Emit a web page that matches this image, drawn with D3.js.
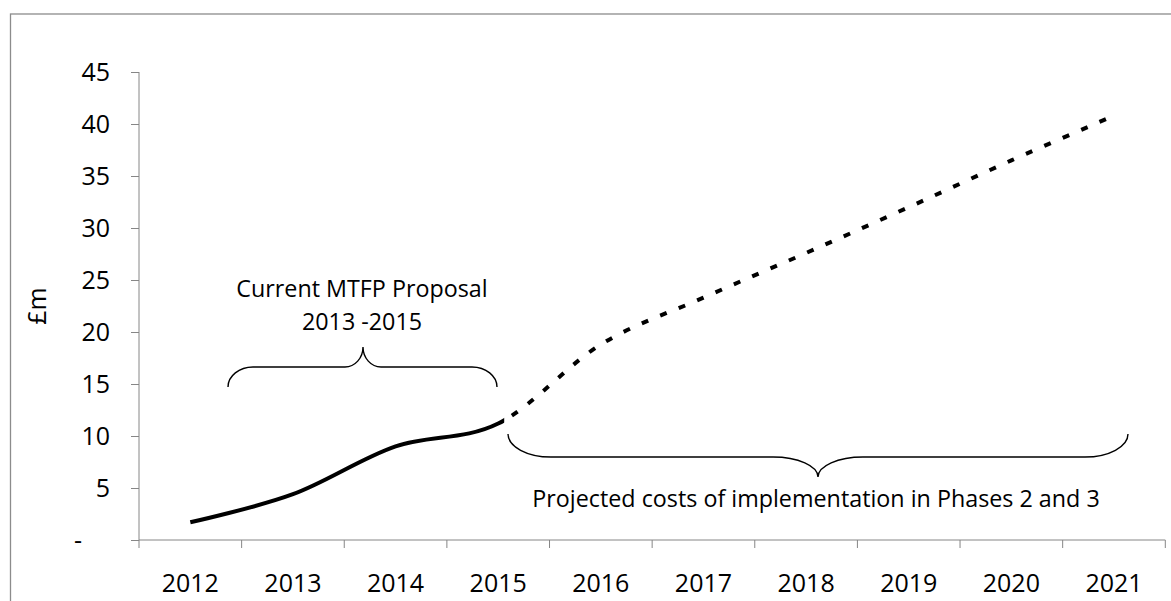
<!DOCTYPE html>
<html><head><meta charset="utf-8">
<script src="https://cdn.jsdelivr.net/npm/d3@7"></script>
<style>
body{margin:0;background:#fff}
svg{display:block}
text{font-family:"Open Sans",sans-serif;fill:#000}
</style>
</head><body>
<svg id="chart" width="1171" height="601"></svg>
<script>
// ---- data ----
const years = ["2012","2013","2014","2015","2016","2017","2018","2019","2020","2021"];
const actualYears = ["2012","2013","2014","2015"];
const actualValues = [1.7, 4.4, 9.0, 11.2];
const projectedYears = ["2015","2016","2017","2018","2019","2020","2021"];
const projectedValues = [11.2, 18.8, 23.3, 27.6, 32.0, 36.5, 40.8];
const yTickValues = [0,5,10,15,20,25,30,35,40,45];
const yTickLabels = ["-","5","10","15","20","25","30","35","40","45"];
const yAxisTitle = "£m";
const noteCurrent = ["Current MTFP Proposal","2013 -2015"];
const noteProjected = "Projected costs of implementation in Phases 2 and 3";

// ---- layout ----
const svg = d3.select("#chart");
const plotLeft = 139, plotRight = 1165.3, plotTop = 72, plotBottom = 540;
const axisColor = "#868686";
const tickFont = 25, noteFont = 23.3;

// outer frame
svg.append("rect").attr("x",10.5).attr("y",14).attr("width",1180).attr("height",620)
  .attr("fill","none").attr("stroke","#8c8c8c").attr("stroke-width",1.3);

const x = d3.scaleBand().domain(years).range([plotLeft,plotRight]).padding(0);
const bw = x.bandwidth();
const xc = d => x(d) + bw/2;
const y = d3.scaleLinear().domain([0,45]).range([plotBottom,plotTop]);

// y axis
const yAxis = svg.append("g").attr("transform",`translate(${plotLeft},0)`)
  .call(d3.axisLeft(y).tickValues(yTickValues).tickSize(8).tickPadding(21)
    .tickFormat((d,i)=>yTickLabels[i]));
yAxis.select(".domain").attr("stroke",axisColor).attr("d",`M0,${plotTop}V${plotBottom}`);
yAxis.selectAll(".tick line").attr("stroke",axisColor);
yAxis.selectAll(".tick text").attr("font-size",tickFont).attr("font-family","'Open Sans',sans-serif").attr("fill","#000");
yAxis.selectAll(".tick text").filter(d=>d===0).attr("text-anchor","middle").attr("x",-61);

// x axis
const xg = svg.append("g").attr("transform",`translate(0,${plotBottom})`);
xg.append("line").attr("x1",plotLeft).attr("x2",plotRight).attr("stroke",axisColor);
const edges = years.map(d=>x(d)).concat([plotRight]);
xg.selectAll("line.tk").data(edges).join("line").attr("class","tk")
  .attr("x1",d=>d).attr("x2",d=>d).attr("y1",0).attr("y2",8).attr("stroke",axisColor);
xg.selectAll("text").data(years).join("text")
  .attr("x",d=>xc(d)).attr("y",52).attr("text-anchor","middle").attr("font-size",tickFont).text(d=>d);

// y title
svg.append("text").attr("transform",`translate(46,${(plotTop+plotBottom)/2}) rotate(-90)`)
  .attr("text-anchor","middle").attr("font-size",tickFont).text(yAxisTitle);

// ---- line ----
const combined = actualYears.map((d,i)=>({year:d,value:actualValues[i]}))
  .concat(projectedYears.slice(1).map((d,i)=>({year:d,value:projectedValues[i+1]})));
const lineGen = d3.line().x(d=>xc(d.year)).y(d=>y(d.value)).curve(d3.curveCatmullRom.alpha(0));
const pathD = lineGen(combined);
const split = xc(actualYears[actualYears.length-1]) + 6;

const defs = svg.append("defs");
defs.append("clipPath").attr("id","clipA").append("rect")
  .attr("x",0).attr("y",0).attr("width",split).attr("height",601);
defs.append("clipPath").attr("id","clipB").append("rect")
  .attr("x",split).attr("y",0).attr("width",1171-split).attr("height",601);

svg.append("path").attr("d",pathD).attr("fill","none").attr("stroke","#000")
  .attr("stroke-width",4).attr("clip-path","url(#clipA)");
const dotted = svg.append("path").attr("d",pathD).attr("fill","none").attr("stroke","#000")
  .attr("stroke-width",4).attr("stroke-dasharray","7,13").attr("clip-path","url(#clipB)");
// align dash start just after split
const node = dotted.node();
const total = node.getTotalLength();
let lo=0, hi=total;
for(let k=0;k<40;k++){const m=(lo+hi)/2; if(node.getPointAtLength(m).x<split) lo=m; else hi=m;}
const startLen = lo + 9;
dotted.attr("stroke-dashoffset", (20 - (startLen % 20)) % 20);

// ---- braces ----
function brace(x1,x2,xm,yb,ym,yt,r,r2){
  const k=0.552, h=yb-ym, t=ym-yt;
  return `M${x1},${yb}C${x1},${yb-k*h} ${x1+r-k*r},${ym} ${x1+r},${ym}`+
    `L${xm-r2},${ym}C${xm-r2+k*r2},${ym} ${xm},${yt+k*t} ${xm},${yt}`+
    `C${xm},${yt+k*t} ${xm+r2-k*r2},${ym} ${xm+r2},${ym}`+
    `L${x2-r},${ym}C${x2-r+k*r},${ym} ${x2},${yb-k*h} ${x2},${yb}`;
}
svg.append("path").attr("d",brace(228,497,363,387,367,347,25,18))
  .attr("fill","none").attr("stroke","#000").attr("stroke-width",1.4);
svg.append("path").attr("d",brace(508,1128,818,434,457,477,43,45))
  .attr("fill","none").attr("stroke","#000").attr("stroke-width",1.4);

// ---- notes ----
svg.append("text").attr("x",362).attr("y",297).attr("text-anchor","middle").attr("font-size",noteFont).text(noteCurrent[0]);
svg.append("text").attr("x",362).attr("y",330).attr("text-anchor","middle").attr("font-size",noteFont).text(noteCurrent[1]);
svg.append("text").attr("x",816).attr("y",507).attr("text-anchor","middle").attr("font-size",noteFont).text(noteProjected);
</script>
</body></html>
